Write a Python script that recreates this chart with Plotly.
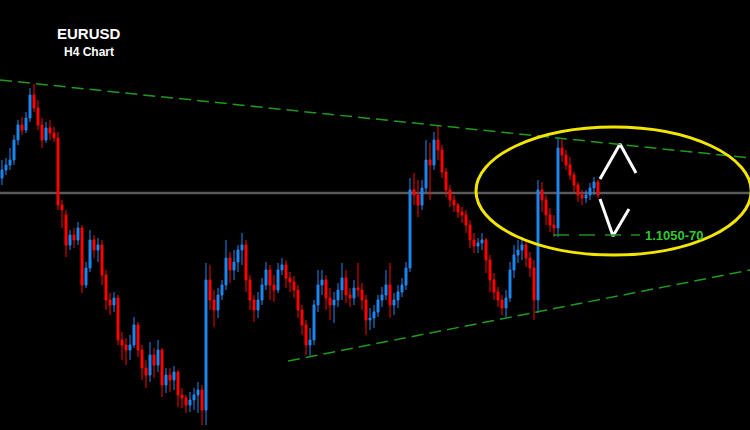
import plotly.graph_objects as go

# H4 candles, EURUSD
opens = [1.1174,1.1190,1.1200,1.1210,1.1250,1.1280,1.1270,1.1294,1.1340,1.1314,
         1.1280,1.1250,1.1274,1.1264,1.1254,1.1120,1.1100,1.1040,1.1060,1.1050,
         1.1074,1.0960,1.0994,1.1050,1.1030,1.1040,1.0980,1.0930,1.0920,1.0934,
         1.0850,1.0840,1.0830,1.0840,1.0880,1.0830,1.0794,1.0780,1.0820,1.0800,
         1.0830,1.0760,1.0780,1.0770,1.0786,1.0740,1.0734,1.0720,1.0730,1.0740,
         1.0750,1.0710,1.0970,1.0930,1.0910,1.0940,1.0960,1.1014,1.0990,1.1006,
         1.1030,1.1040,1.0970,1.0930,1.0910,1.0930,1.0960,1.0990,1.0960,1.0950,
         1.0990,1.1000,1.0974,1.0966,1.0950,1.0910,1.0880,1.0840,1.0850,1.0920,
         1.0960,1.0970,1.0934,1.0920,1.0930,1.0950,1.0974,1.0940,1.0934,1.0954,
         1.0950,1.0930,1.0890,1.0894,1.0906,1.0930,1.0940,1.0960,1.0920,1.0930,
         1.0946,1.0960,1.0994,1.1150,1.1140,1.1120,1.1154,1.1210,1.1200,1.1250,
         1.1230,1.1186,1.1150,1.1130,1.1120,1.1106,1.1100,1.1080,1.1050,1.1038,
         1.1044,1.1050,1.1010,1.0970,1.0946,1.0930,1.0914,1.0934,1.0990,1.1020,
         1.1030,1.1040,1.1014,1.0994,1.0930,1.1150,1.1130,1.1100,1.1080,1.1074,
         1.1234,1.1220,1.1200,1.1180,1.1160,1.1140,1.1134,1.1140,1.1154,1.1166]
highs = [1.1210,1.1214,1.1234,1.1260,1.1290,1.1296,1.1306,1.1354,1.1362,1.1330,
         1.1294,1.1286,1.1290,1.1276,1.1266,1.1130,1.1110,1.1070,1.1074,1.1086,
         1.1080,1.1006,1.1070,1.1060,1.1054,1.1050,1.0990,1.0944,1.0946,1.0940,
         1.0866,1.0854,1.0860,1.0896,1.0886,1.0840,1.0810,1.0846,1.0834,1.0850,
         1.0834,1.0794,1.0794,1.0798,1.0790,1.0754,1.0740,1.0746,1.0754,1.0766,
         1.0760,1.1004,1.1000,1.0950,1.0954,1.0970,1.1050,1.1026,1.1030,1.1040,
         1.1064,1.1050,1.0980,1.0940,1.0946,1.0974,1.1006,1.1000,1.0980,1.1004,
         1.1014,1.1010,1.0986,1.0978,1.0960,1.0920,1.0890,1.0874,1.0930,1.0990,
         1.0990,1.0980,1.0954,1.0946,1.0964,1.1004,1.0990,1.0954,1.0970,1.1004,
         1.0964,1.0940,1.0914,1.0920,1.0940,1.0956,1.0990,1.1004,1.0944,1.0960,
         1.0974,1.1006,1.1174,1.1184,1.1170,1.1170,1.1250,1.1244,1.1266,1.1280,
         1.1240,1.1194,1.1160,1.1140,1.1124,1.1116,1.1110,1.1090,1.1064,1.1054,
         1.1064,1.1054,1.1020,1.0984,1.0956,1.0940,1.0950,1.1006,1.1040,1.1050,
         1.1056,1.1050,1.1026,1.1010,1.1170,1.1166,1.1140,1.1114,1.1100,1.1256,
         1.1254,1.1230,1.1216,1.1186,1.1166,1.1150,1.1150,1.1164,1.1176,1.1170]
lows = [1.1160,1.1180,1.1190,1.1200,1.1240,1.1260,1.1264,1.1286,1.1306,1.1270,
        1.1234,1.1244,1.1250,1.1246,1.1110,1.1074,1.1016,1.1030,1.1034,1.1040,
        1.0944,1.0954,1.0986,1.1014,1.1006,1.0960,1.0910,1.0900,1.0906,1.0840,
        1.0810,1.0800,1.0810,1.0834,1.0816,1.0770,1.0754,1.0766,1.0774,1.0786,
        1.0736,1.0744,1.0746,1.0750,1.0716,1.0714,1.0704,1.0706,1.0710,1.0704,
        1.0680,1.0680,1.0910,1.0876,1.0894,1.0930,1.0950,1.0964,1.0970,1.0986,
        1.1000,1.0946,1.0910,1.0886,1.0894,1.0920,1.0950,1.0930,1.0926,1.0944,
        1.0980,1.0954,1.0946,1.0934,1.0894,1.0860,1.0820,1.0816,1.0840,1.0906,
        1.0940,1.0910,1.0890,1.0884,1.0916,1.0930,1.0924,1.0916,1.0920,1.0936,
        1.0910,1.0860,1.0870,1.0874,1.0896,1.0916,1.0930,1.0894,1.0900,1.0914,
        1.0936,1.0950,1.0986,1.1120,1.1096,1.1110,1.1146,1.1130,1.1190,1.1210,
        1.1174,1.1136,1.1116,1.1106,1.1094,1.1084,1.1064,1.1034,1.1024,1.1024,
        1.1030,1.0984,1.0946,1.0930,1.0916,1.0900,1.0896,1.0926,1.0974,1.1004,
        1.1010,1.0996,1.0976,1.0890,1.0904,1.1106,1.1080,1.1066,1.1056,1.1056,
        1.1206,1.1190,1.1170,1.1146,1.1126,1.1120,1.1124,1.1130,1.1140,1.1134]
closes = [1.1190,1.1200,1.1210,1.1250,1.1280,1.1270,1.1294,1.1340,1.1314,1.1280,
          1.1250,1.1274,1.1264,1.1254,1.1120,1.1110,1.1040,1.1060,1.1050,1.1074,
          1.0960,1.0994,1.1050,1.1030,1.1040,1.0980,1.0930,1.0920,1.0934,1.0850,
          1.0840,1.0830,1.0840,1.0880,1.0830,1.0794,1.0780,1.0820,1.0800,1.0830,
          1.0760,1.0780,1.0770,1.0786,1.0740,1.0734,1.0720,1.0730,1.0740,1.0750,
          1.0710,1.0970,1.0930,1.0910,1.0940,1.0960,1.1014,1.0990,1.1006,1.1030,
          1.1040,1.0970,1.0930,1.0910,1.0930,1.0960,1.0990,1.0960,1.0950,1.0990,
          1.1000,1.0974,1.0966,1.0950,1.0910,1.0880,1.0840,1.0850,1.0920,1.0960,
          1.0970,1.0934,1.0920,1.0930,1.0950,1.0974,1.0940,1.0934,1.0954,1.0950,
          1.0930,1.0890,1.0894,1.0906,1.0930,1.0940,1.0960,1.0920,1.0930,1.0946,
          1.0960,1.0994,1.1150,1.1140,1.1120,1.1154,1.1210,1.1200,1.1250,1.1230,
          1.1186,1.1150,1.1130,1.1120,1.1106,1.1100,1.1080,1.1050,1.1038,1.1044,
          1.1050,1.1010,1.0970,1.0946,1.0930,1.0914,1.0934,1.0990,1.1020,1.1030,
          1.1040,1.1014,1.0994,1.0930,1.1150,1.1130,1.1100,1.1080,1.1074,1.1234,
          1.1220,1.1200,1.1180,1.1160,1.1140,1.1134,1.1140,1.1154,1.1166,1.1140]

# Drawn levels / annotations (prices)
pivot_level = 1.1144
target_level = 1.1060
target_label = "1.1050-70"
upper_trend = [1.1370, 1.1214]
lower_trend = [1.0808, 1.0990]
title_text = "EURUSD"
subtitle_text = "H4 Chart"

n = len(opens)
xs = list(range(n))
x_end = 187.0

fig = go.Figure()
fig.add_trace(go.Candlestick(
    x=xs, open=opens, high=highs, low=lows, close=closes,
    increasing=dict(line=dict(color="#1E88F0", width=1), fillcolor="#1E88F0"),
    decreasing=dict(line=dict(color="#FF0000", width=1), fillcolor="#FF0000"),
    whiskerwidth=0, showlegend=False, hoverinfo="skip"))

shapes = []
shapes.append(dict(type="line", xref="x", yref="y", x0=-0.5, x1=x_end,
                   y0=pivot_level, y1=pivot_level,
                   line=dict(color="#5a5a5a", width=2.5), layer="below"))
shapes.append(dict(type="line", xref="x", yref="y", x0=-0.5, x1=x_end,
                   y0=upper_trend[0], y1=upper_trend[1],
                   line=dict(color="#1f9a1f", width=1.5, dash="12px,6px")))
shapes.append(dict(type="line", xref="x", yref="y", x0=71.5, x1=x_end,
                   y0=lower_trend[0], y1=lower_trend[1],
                   line=dict(color="#1f9a1f", width=1.5, dash="12px,6px")))
shapes.append(dict(type="line", xref="x", yref="y", x0=137.75, x1=159.5,
                   y0=target_level, y1=target_level,
                   line=dict(color="#1f8f1f", width=1.5, dash="16px,10px")))
shapes.append(dict(type="circle", xref="x", yref="y", x0=118.5, x1=187.3,
                   y0=1.1020, y1=1.1276,
                   line=dict(color="#F2E600", width=3)))
fig.update_layout(shapes=shapes)

fig.add_trace(go.Scatter(x=[149.5, 154.5, 158.5], y=[1.1172, 1.1242, 1.1184],
                         mode="lines", line=dict(color="white", width=3),
                         showlegend=False, hoverinfo="skip"))
fig.add_trace(go.Scatter(x=[149.5, 152.75, 156.75], y=[1.1132, 1.1058, 1.1112],
                         mode="lines", line=dict(color="white", width=3),
                         showlegend=False, hoverinfo="skip"))

fig.add_annotation(x=160.3, y=target_level, xref="x", yref="y", text=f"<b>{target_label}</b>",
                   showarrow=False, xanchor="left", yanchor="middle",
                   font=dict(family="Liberation Sans", size=13, color="#33c633"))
fig.add_annotation(x=89 / 750, y=1 - 34 / 430, xref="paper", yref="paper",
                   text=f"<b>{title_text}</b>",
                   showarrow=False, xanchor="center", yanchor="middle",
                   font=dict(family="Liberation Sans", size=15, color="white"))
fig.add_annotation(x=89 / 750, y=1 - 52 / 430, xref="paper", yref="paper",
                   text=f"<b>{subtitle_text}</b>",
                   showarrow=False, xanchor="center", yanchor="middle",
                   font=dict(family="Liberation Sans", size=12, color="white"))

fig.update_layout(
    width=750, height=430,
    margin=dict(l=0, r=0, t=0, b=0),
    paper_bgcolor="black", plot_bgcolor="black",
    xaxis=dict(range=[-0.5, x_end], visible=False, rangeslider=dict(visible=False),
               showgrid=False, zeroline=False),
    yaxis=dict(range=[1.1530 - 0.0002 * 430, 1.1530], visible=False,
               showgrid=False, zeroline=False),
    showlegend=False,
)

fig.write_html("out.html",
               config={"displayModeBar": False, "staticPlot": True},
               post_script="document.body.style.margin='0';document.body.style.background='black';document.body.style.overflow='hidden';")
